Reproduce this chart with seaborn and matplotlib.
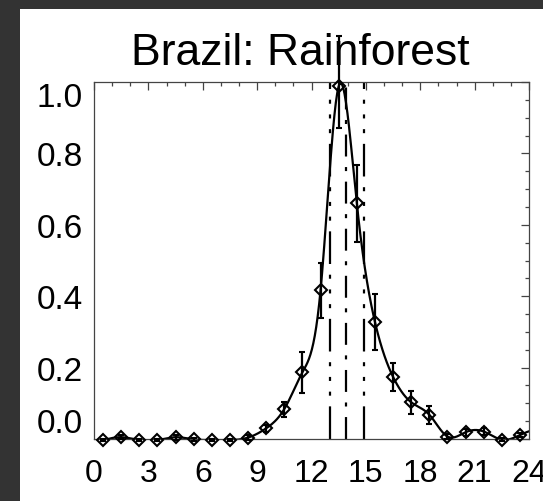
import numpy as np
import matplotlib
matplotlib.use("Agg")
import matplotlib.pyplot as plt
import seaborn as sns
from matplotlib.patches import Rectangle
from matplotlib.ticker import MultipleLocator

# ---- data ----
hours = [0.5, 1.5, 2.5, 3.5, 4.5, 5.5, 6.5, 7.5, 8.5, 9.5, 10.5, 11.5,
         12.5, 13.5, 14.5, 15.5, 16.5, 17.5, 18.5, 19.5, 20.5, 21.5, 22.5, 23.5]
values = [-0.003, 0.005, -0.003, -0.003, 0.005, -0.001, -0.003, -0.003, 0.004,
          0.030, 0.084, 0.187, 0.417, 0.988, 0.660, 0.328, 0.174, 0.103, 0.068,
          0.007, 0.019, 0.021, -0.002, 0.011]
err_low = [0.004, 0.006, 0.004, 0.004, 0.007, 0.004, 0.004, 0.004, 0.006,
           0.010, 0.021, 0.058, 0.077, 0.118, 0.108, 0.079, 0.039, 0.032, 0.025,
           0.006, 0.010, 0.010, 0.004, 0.006]
err_high = [0.004, 0.006, 0.004, 0.004, 0.007, 0.004, 0.004, 0.004, 0.006,
            0.010, 0.021, 0.058, 0.077, 0.140, 0.108, 0.079, 0.039, 0.032, 0.025,
            0.006, 0.010, 0.010, 0.004, 0.006]
vlines = [13.0, 13.9, 14.9]
xticks = [0, 3, 6, 9, 12, 15, 18, 21, 24]
yticks = [0.0, 0.2, 0.4, 0.6, 0.8, 1.0]
title = "Brazil: Rainforest"


def natural_spline(x, y, xs):
    x = np.asarray(x, float)
    y = np.asarray(y, float)
    n = len(x)
    h = np.diff(x)
    A = np.zeros((n, n))
    r = np.zeros(n)
    A[0, 0] = 1.0
    A[-1, -1] = 1.0
    for i in range(1, n - 1):
        A[i, i - 1] = h[i - 1]
        A[i, i] = 2 * (h[i - 1] + h[i])
        A[i, i + 1] = h[i]
        r[i] = 3 * ((y[i + 1] - y[i]) / h[i] - (y[i] - y[i - 1]) / h[i - 1])
    c = np.linalg.solve(A, r)
    b = (y[1:] - y[:-1]) / h - h * (2 * c[:-1] + c[1:]) / 3
    d = (c[1:] - c[:-1]) / (3 * h)
    idx = np.clip(np.searchsorted(x, xs) - 1, 0, n - 2)
    dx = xs - x[idx]
    return y[idx] + b[idx] * dx + c[idx] * dx ** 2 + d[idx] * dx ** 3


sns.set_theme(style="white")
plt.rcParams["font.family"] = ["Liberation Sans", "DejaVu Sans"]
plt.rcParams["lines.scale_dashes"] = False

W, H = 543, 502
fig = plt.figure(figsize=(W / 100, H / 100), dpi=100, facecolor="#333333")
fig.patches.append(Rectangle((20 / W, 0), 1 - 20 / W, 1 - 10 / H,
                             transform=fig.transFigure, facecolor="white",
                             edgecolor="none", zorder=-10))
ax = fig.add_axes([94 / W, 1 - 440 / H, (529 - 94) / W, (440 - 83) / H])
ax.set_facecolor("white")

# smooth curve
xs = np.linspace(0.0, 24.0, 600)
ys = natural_spline(hours, values, xs)
sns.lineplot(x=xs, y=ys, ax=ax, color="black", linewidth=1.6, sort=False)

# vertical lines
dash3 = (0, (23.5, 7.7, 2.9, 7.7, 2.9, 7.7, 2.9, 7.7))
dash1 = (0, (15.8, 7.6, 2.9, 7.6))
styles = [dash3, dash1, dash3]
for xv, ls in zip(vlines, styles):
    ax.axvline(xv, color="black", linewidth=1.6, linestyle=ls, zorder=2)

# points with error bars
ax.errorbar(hours, values, yerr=[err_low, err_high], fmt="D", ms=6.5,
            mfc="none", mec="black", mew=1.5, ecolor="black", elinewidth=1.6,
            capsize=2.0, capthick=1.4, clip_on=False, zorder=3)

ax.set_xlim(0, 24)
ax.set_ylim(0, 1)
ax.set_xticks(xticks)
ax.set_xticklabels([str(t) for t in xticks])
ax.set_yticks(yticks)
ax.set_yticklabels([f"{t:.1f}" for t in yticks])
ax.xaxis.set_minor_locator(MultipleLocator(1))
ax.yaxis.set_minor_locator(MultipleLocator(0.05))
ax.tick_params(which="both", direction="in", top=True, right=True,
               color="#444444", width=0.9)
ax.tick_params(which="major", length=6)
ax.tick_params(which="minor", length=3)
ax.tick_params(axis="x", which="major", labelsize=23, pad=14, labelcolor="black")
ax.tick_params(axis="y", which="major", labelsize=24, pad=8, labelcolor="black")
for s in ax.spines.values():
    s.set_color("#444444")
    s.set_linewidth(0.9)
yt = ax.yaxis.get_major_ticks()
yt[0].label1.set_verticalalignment("bottom")
yt[-1].label1.set_verticalalignment("top")
ax.set_xlabel("")
ax.set_ylabel("")

fig.text(300.5 / W, 1 - 65 / H, title, ha="center", va="baseline",
         fontsize=32, color="black")

fig.savefig("out.png", dpi=100, facecolor=fig.get_facecolor())
